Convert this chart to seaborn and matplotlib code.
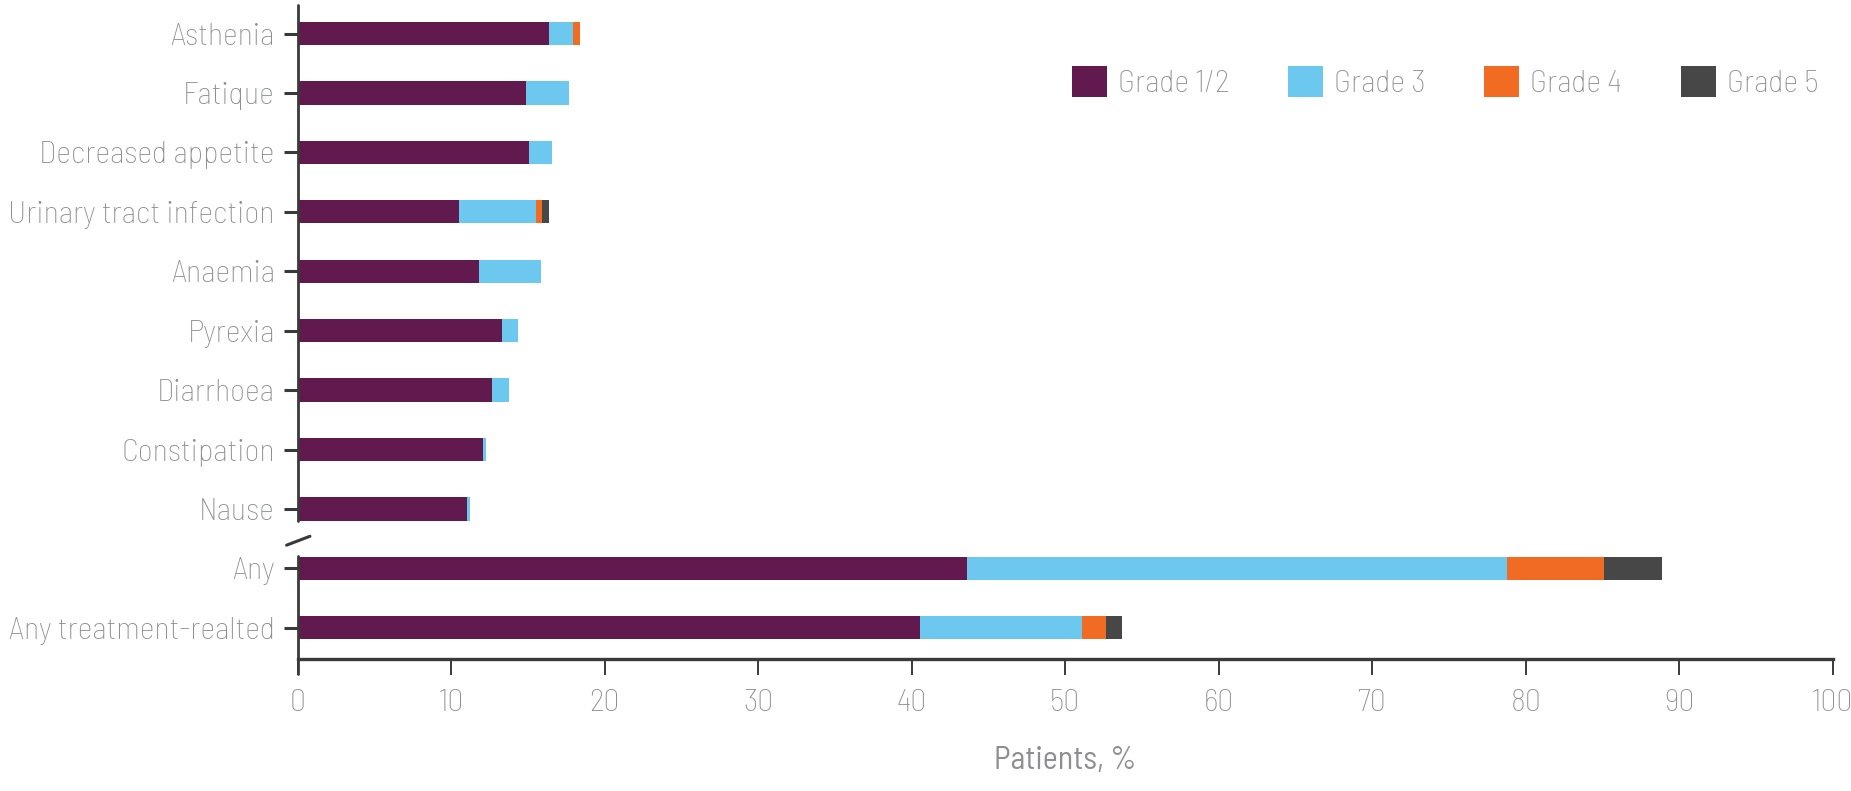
import numpy as np
import pandas as pd
import matplotlib
matplotlib.use("Agg")
import matplotlib.pyplot as plt
import seaborn as sns
from matplotlib import font_manager as fm
from matplotlib.patches import Patch
from matplotlib.lines import Line2D

categories = ["Asthenia", "Fatique", "Decreased appetite", "Urinary tract infection",
              "Anaemia", "Pyrexia", "Diarrhoea", "Constipation", "Nause",
              "Any", "Any treatment-realted"]
grade12 = [16.35, 14.9, 15.1, 10.5, 11.8, 13.3, 12.68, 12.05, 11.05, 43.6, 40.55]
grade3 = [1.6, 2.75, 1.5, 5.0, 4.05, 1.07, 1.07, 0.2, 0.2, 35.2, 10.55]
grade4 = [0.45, 0.0, 0.0, 0.43, 0.0, 0.0, 0.0, 0.0, 0.0, 6.3, 1.55]
grade5 = [0.0, 0.0, 0.0, 0.45, 0.0, 0.0, 0.0, 0.0, 0.0, 3.75, 1.05]
series_names = ["Grade 1/2", "Grade 3", "Grade 4", "Grade 5"]
x_ticks = [0, 10, 20, 30, 40, 50, 60, 70, 80, 90, 100]
x_label = "Patients, %"

colors = ["#621A4E", "#6DC8F0", "#F26B23", "#474747"]
text_gray = "#8C8E90"
axis_dark = "#3A3A3A"

sns.set_theme(style="white")
avail = {f.name for f in fm.fontManager.ttflist}
font = "DejaVu Sans"
for cand in ["Barlow Semi Condensed", "Barlow Condensed", "Roboto Condensed",
             "Asap Condensed", "Archivo Narrow", "Liberation Sans Narrow"]:
    if cand in avail:
        font = cand
        break
plt.rcParams["font.family"] = [font, "DejaVu Sans"]
plt.rcParams["font.weight"] = "light"
FS = 23

df = pd.DataFrame({"category": categories, "g12": grade12, "g3": grade3,
                   "g4": grade4, "g5": grade5})
df["c1"] = df["g12"]
df["c2"] = df["c1"] + df["g3"]
df["c3"] = df["c2"] + df["g4"]
df["c4"] = df["c3"] + df["g5"]

fig = plt.figure(figsize=(18.51, 7.91), dpi=100)
ax = fig.add_axes([0.1608, 0.1669, 0.8294, 0.8268])

for col, c in zip(["c4", "c3", "c2", "c1"], colors[::-1]):
    sns.barplot(data=df, x=col, y="category", order=categories, color=c,
                width=0.39, orient="h", errorbar=None, saturation=1, ax=ax,
                linewidth=0)

ax.set_xlim(0, 100)
ax.set_ylim(10.525, -0.48)
ax.set_xticks(x_ticks)
ax.set_xticklabels([str(t) for t in x_ticks])
ax.set_ylabel("")
ax.set_xlabel(x_label, fontsize=FS, color=text_gray, labelpad=21)

for s in ["top", "right", "left"]:
    ax.spines[s].set_visible(False)
ax.spines["bottom"].set_color(axis_dark)
ax.spines["bottom"].set_linewidth(2.4)

ax.tick_params(axis="x", direction="out", length=11.3, width=1.4, color=axis_dark,
               labelsize=FS, labelcolor=text_gray, pad=10.5, bottom=True)
ax.tick_params(axis="y", direction="out", length=9.9, width=2.2, color=axis_dark,
               labelsize=FS, labelcolor=text_gray, pad=6.5, left=True)

# broken y axis spine
tr = ax.get_yaxis_transform()
ax.add_line(Line2D([0, 0], [-0.48, 8.2], transform=tr, color=axis_dark, lw=2.0,
                   clip_on=False))
ax.add_line(Line2D([0, 0], [8.8, 10.78], transform=tr, color=axis_dark, lw=2.0,
                   clip_on=False))
ax.add_line(Line2D([-0.0072, 0.008], [8.61, 8.46], transform=tr, color=axis_dark,
                   lw=2.2, clip_on=False))

handles = [Patch(facecolor=c, edgecolor="none", label=n) for c, n in zip(colors, series_names)]
fig.legend(handles=handles, loc="center left", bbox_to_anchor=(0.579, 0.896), ncol=4,
           frameon=False, fontsize=FS, labelcolor=text_gray, handlelength=1.09,
           handleheight=1.09, handletextpad=0.35, columnspacing=1.84,
           borderpad=0, borderaxespad=0)

fig.savefig("out.png", dpi=100)
